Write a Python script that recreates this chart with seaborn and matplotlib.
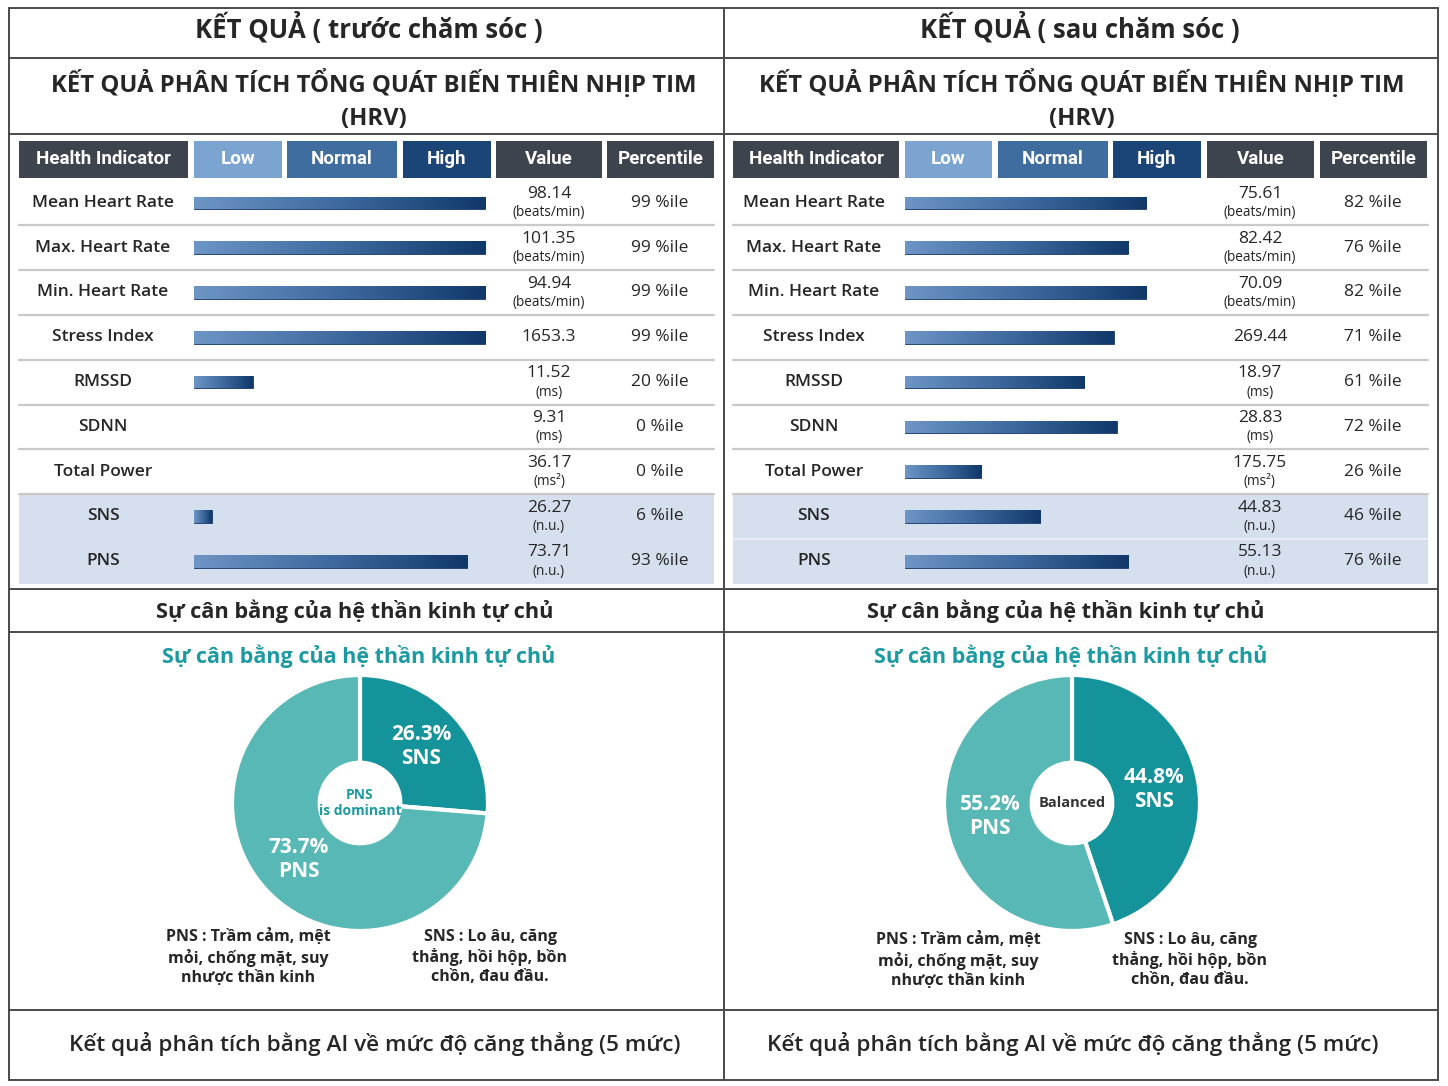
import numpy as np
import matplotlib
matplotlib.use("Agg")
import matplotlib.pyplot as plt
import seaborn as sns
from matplotlib.colors import LinearSegmentedColormap
from matplotlib.patches import Rectangle

# ── Data ────────────────────────────────────────────────────────────────────
indicators = ["Mean Heart Rate", "Max. Heart Rate", "Min. Heart Rate", "Stress Index",
              "RMSSD", "SDNN", "Total Power", "SNS", "PNS"]
units = ["(beats/min)", "(beats/min)", "(beats/min)", "", "(ms)", "(ms)", "(ms²)",
         "(n.u.)", "(n.u.)"]

before_values = ["98.14", "101.35", "94.94", "1653.3", "11.52", "9.31", "36.17", "26.27", "73.71"]
before_pct = [99, 99, 99, 99, 20, 0, 0, 6, 93]

after_values = ["75.61", "82.42", "70.09", "269.44", "18.97", "28.83", "175.75", "44.83", "55.13"]
after_pct = [82, 76, 82, 71, 61, 72, 26, 46, 76]

balance_labels = ["SNS", "PNS"]
before_balance = [26.3, 73.7]
after_balance = [44.8, 55.2]

panel_titles = ["KẾT QUẢ ( trước chăm sóc )", "KẾT QUẢ ( sau chăm sóc )"]
center_texts = ["PNS\nis dominant", "Balanced"]

header_labels = ["Health Indicator", "Low", "Normal", "High", "Value", "Percentile"]

# ── Style ───────────────────────────────────────────────────────────────────
sns.set_style("white")
plt.rcParams["font.family"] = ["Open Sans", "DejaVu Sans"]

W, H = 1448, 1086
fig = plt.figure(figsize=(W / 100, H / 100), dpi=100)
bg = fig.add_axes([0, 0, 1, 1])
bg.set_xlim(0, W)
bg.set_ylim(H, 0)
bg.axis("off")

LINE = "#4a4a4a"
TEAL_DARK = "#14939b"
TEAL_LIGHT = "#57b8b5"
TEAL_TEXT = "#1b9aa2"
bar_cmap = LinearSegmentedColormap.from_list("bar", ["#6d95c5", "#3f6a9f", "#103869"])
header_colors = ["#3e444e", "#7ba4d0", "#3f6d9f", "#1b4576", "#3e444e", "#3e444e"]

ROW_TOP, ROW_H = 180.5, 44.8

# ── Frame ───────────────────────────────────────────────────────────────────
bg.add_patch(Rectangle((9, 8), 1429, 1072, fill=False, ec=LINE, lw=1.4))
bg.plot([724, 724], [8, 1080], color=LINE, lw=1.4)
for y in [58, 134, 589, 632, 1010]:
    bg.plot([9, 1438], [y, y], color=LINE, lw=1.4)

# per-panel layout (pixels)
LAYOUT = [
    dict(x0=19, edges=[(0, 169), (175, 263), (268, 378), (384, 472), (477, 583), (588, 695)],
         label_x=103, value_x=549, pct_x=660, title_x=369, hrv_x=374, sec_x=355,
         pie_x=360, pns_x=248, sns_x=490, desc_y=(957, 957), bottom_x=375),
    dict(x0=733, edges=[(0, 166), (172, 259), (265, 375), (380, 468), (474, 581), (587, 694)],
         label_x=814, value_x=1260, pct_x=1373, title_x=1080, hrv_x=1082, sec_x=1066,
         pie_x=1072, pns_x=958, sns_x=1190, desc_y=(960, 960), bottom_x=1073),
]


def draw_panel(L, values, pct, balance, title, ctext):
    x0 = L["x0"]
    bg.text(L["title_x"], 28, title, ha="center", va="center", fontsize=18.5, fontweight="bold")
    bg.text(L["hrv_x"], 100, "KẾT QUẢ PHÂN TÍCH TỔNG QUÁT BIẾN THIÊN NHỊP TIM\n(HRV)",
            ha="center", va="center", fontsize=17.2, fontweight="bold", linespacing=1.45)

    # header cells
    for (a, b), lab, col in zip(L["edges"], header_labels, header_colors):
        bg.add_patch(Rectangle((x0 + a, 141), b - a, 37, fc=col, ec="none"))
        bg.text(x0 + (a + b) / 2, 159.5, lab, ha="center", va="center", color="white",
                fontsize=13.5, fontweight="bold", family=["Roboto", "DejaVu Sans"])

    # shaded SNS / PNS block
    bg.add_patch(Rectangle((x0, ROW_TOP + 7 * ROW_H), 695, 2 * ROW_H, fc="#d5dfed", ec="none"))
    for k in range(1, 8):
        y = ROW_TOP + k * ROW_H
        bg.plot([x0, x0 + 695], [y, y], color="#c9c9c9", lw=1.6)
    if x0 > 700:
        y = ROW_TOP + 8 * ROW_H
        bg.plot([x0, x0 + 695], [y, y], color="#eef2f8", lw=1.2)

    for i, name in enumerate(indicators):
        yc = ROW_TOP + (i + 0.5) * ROW_H
        bg.text(L["label_x"], yc, name, ha="center", va="center", fontsize=12.5,
                fontweight="semibold")
        vx = L["value_x"]
        if units[i]:
            bg.text(vx, yc - 9, values[i], ha="center", va="center", fontsize=12.5)
            bg.text(vx, yc + 10, units[i], ha="center", va="center", fontsize=9.8, color="#222")
        else:
            bg.text(vx, yc, values[i], ha="center", va="center", fontsize=12.5)
        bg.text(L["pct_x"], yc, f"{pct[i]} %ile", ha="center", va="center", fontsize=12.5)

    # bars (0-100 percentile) start at the "Low" column
    bx = x0 + L["edges"][1][0]
    ax = fig.add_axes([bx / W, 1 - (ROW_TOP + 9 * ROW_H) / H, 294 / W, 9 * ROW_H / H])
    sns.barplot(x=pct, y=indicators, orient="h", ax=ax, width=0.28,
                color="#2d5a8e", edgecolor="#15396a", linewidth=0.6)
    for p in ax.patches:
        w = p.get_width()
        if w <= 0:
            p.set_visible(False)
            continue
        im = ax.imshow(np.linspace(0, 1, 256).reshape(1, -1), cmap=bar_cmap, aspect="auto",
                       extent=(p.get_x(), p.get_x() + w, p.get_y() + p.get_height(), p.get_y()),
                       zorder=p.get_zorder() + 0.1)
        im.set_clip_path(p)
    ax.set_xlim(0, 100)
    ax.set_ylim(len(indicators) - 0.5, -0.5)
    ax.set_facecolor("none")
    ax.axis("off")

    # balance donut
    pcx, pcy, r = L["pie_x"], 803, 128
    bg.text(pcx - 1, 656, "Sự cân bằng của hệ thần kinh tự chủ", ha="center", va="center",
            fontsize=15.5, fontweight="bold", color=TEAL_TEXT)
    bg.text(L["sec_x"], 611, "Sự cân bằng của hệ thần kinh tự chủ", ha="center", va="center",
            fontsize=15.7, fontweight="bold")
    pax = fig.add_axes([(pcx - r) / W, 1 - (pcy + r) / H, 2 * r / W, 2 * r / H])
    wedges, _ = pax.pie(balance, colors=[TEAL_DARK, TEAL_LIGHT], startangle=90,
                        counterclock=False, radius=1,
                        wedgeprops=dict(width=0.685, edgecolor="white", linewidth=3))
    pax.set_xlim(-1.0, 1.0)
    pax.set_ylim(-1.0, 1.0)
    for wdg, val, lab in zip(wedges, balance, balance_labels):
        ang = np.deg2rad((wdg.theta1 + wdg.theta2) / 2)
        pax.text(0.65 * np.cos(ang), 0.65 * np.sin(ang), f"{val:.1f}%\n{lab}", ha="center",
                 va="center", color="white", fontsize=15, fontweight="bold",
                 linespacing=1.2)
    pax.text(0, 0, ctext, ha="center", va="center", fontsize=10 if "\n" in ctext else 10.5,
             fontweight="bold", color=TEAL_TEXT if "\n" in ctext else "#333",
             linespacing=1.1)

    bg.text(L["pns_x"], L["desc_y"][0], "PNS : Trầm cảm, mệt\nmỏi, chống mặt, suy\nnhược thần kinh",
            ha="center", va="center", fontsize=11.5, fontweight="bold", linespacing=1.25)
    bg.text(L["sns_x"], L["desc_y"][1], "SNS : Lo âu, căng\nthẳng, hồi hộp, bồn\nchồn, đau đầu.",
            ha="center", va="center", fontsize=11.5, fontweight="bold", linespacing=1.25)

    bg.text(L["bottom_x"], 1044, "Kết quả phân tích bằng AI về mức độ căng thẳng (5 mức)",
            ha="center", va="center", fontsize=16.2, fontweight="semibold")


draw_panel(LAYOUT[0], before_values, before_pct, before_balance, panel_titles[0], center_texts[0])
draw_panel(LAYOUT[1], after_values, after_pct, after_balance, panel_titles[1], center_texts[1])

fig.savefig("out.png", dpi=100, facecolor="white")
